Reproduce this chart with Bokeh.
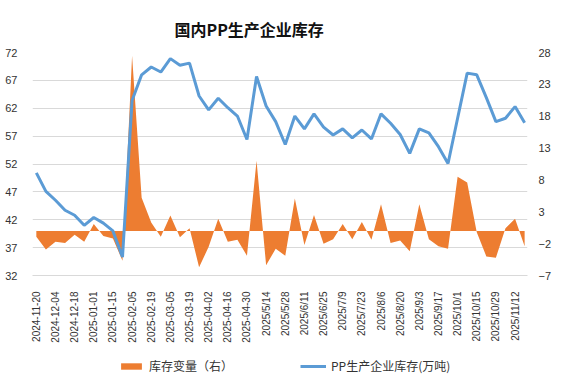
from bokeh.plotting import figure
from bokeh.layouts import column
from bokeh.models import Range1d, LinearAxis, FixedTicker, Legend, LegendItem
from bokeh.embed import file_html
from bokeh.resources import INLINE

dates = ["2024-11-20", "2024-11-27", "2024-12-04", "2024-12-11", "2024-12-18", "2024-12-25",
         "2025-01-01", "2025-01-08", "2025-01-15", "2025-01-22", "2025-02-05", "2025-02-12",
         "2025-02-19", "2025-02-26", "2025-03-05", "2025-03-12", "2025-03-19", "2025-03-26",
         "2025-04-02", "2025-04-09", "2025-04-16", "2025-04-23", "2025-04-30", "2025/5/7",
         "2025/5/14", "2025/5/21", "2025/5/28", "2025/6/4", "2025/6/11", "2025/6/18",
         "2025/6/25", "2025/7/2", "2025/7/9", "2025/7/16", "2025/7/23", "2025/7/30",
         "2025/8/6", "2025/8/13", "2025/8/20", "2025/8/27", "2025/9/3", "2025/9/10",
         "2025/9/17", "2025/9/24", "2025/10/1", "2025/10/8", "2025/10/15", "2025/10/22",
         "2025/10/29", "2025/11/5", "2025/11/12", "2025/11/19"]

inventory = [50.4, 47.1, 45.5, 43.7, 42.8, 41.0, 42.4, 41.4, 40.0, 35.3,
             63.4, 68.0, 69.4, 68.5, 70.9, 69.7, 70.1, 64.2, 61.7, 63.8,
             62.1, 60.6, 56.4, 67.7, 62.4, 59.6, 55.5, 60.6, 58.3, 61.0,
             58.6, 57.2, 58.3, 56.7, 58.1, 56.5, 61.0, 59.3, 57.3, 53.9,
             58.3, 57.6, 55.1, 52.1, 60.2, 68.3, 68.0, 63.9, 59.6, 60.2,
             62.3, 59.4]

change = [-0.9, -2.9, -1.7, -1.9, -0.6, -1.7, 1.1, -0.8, -1.2, -4.7,
          27.5, 5.2, 1.3, -0.9, 2.4, -1.0, 0.4, -5.7, -2.5, 1.9,
          -1.7, -1.4, -3.9, 11.0, -5.4, -2.8, -3.9, 5.1, -2.2, 2.5,
          -2.0, -1.3, 1.1, -1.3, 1.4, -1.4, 4.2, -1.9, -1.5, -3.2,
          4.2, -1.3, -2.4, -2.8, 8.5, 7.6, -0.2, -4.0, -4.2, 0.4,
          1.9, -2.4]

title_text = "国内PP生产企业库存"
series_names = ["库存变量（右）", "PP生产企业库存(万吨)"]
left_ticks = [32, 37, 42, 47, 52, 57, 62, 67, 72]
right_ticks = [-7, -2, 3, 8, 13, 18, 23, 28]

x = list(range(len(dates)))
zeros = [0] * len(dates)

ORANGE = "#ED7D31"
BLUE = "#5B9BD5"
GRID = "#d9d9d9"
TXT = "#333333"

p = figure(width=554, height=345, output_backend="svg", toolbar_location=None,
           x_range=Range1d(-0.4, 51.3), y_range=Range1d(32, 72),
           min_border_left=32, min_border_right=17, min_border_top=52, min_border_bottom=63)
p.extra_y_ranges = {"right": Range1d(-7, 28)}

p.title.text = title_text
p.title.align = "left"
p.title.offset = 142
p.title.standoff = 24
p.title.text_font = "Noto Sans CJK SC"
p.title.text_font_size = "16px"
p.title.text_font_style = "bold"
p.title.text_color = "#111111"

p.outline_line_color = None
p.background_fill_color = "white"
p.border_fill_color = "white"

area = p.varea(x=x, y1=zeros, y2=change, fill_color=ORANGE, y_range_name="right")
line = p.line(x=x, y=inventory, line_color=BLUE, line_width=3)

ya = p.yaxis[0]
ya.ticker = FixedTicker(ticks=left_ticks)
ya.axis_line_color = None
ya.major_tick_line_color = None
ya.minor_tick_line_color = None
ya.major_label_standoff = 9
ya.major_label_text_font = "Liberation Sans"
ya.major_label_text_font_size = "11px"
ya.major_label_text_color = TXT

ra = LinearAxis(y_range_name="right", ticker=FixedTicker(ticks=right_ticks))
ra.axis_line_color = None
ra.major_tick_line_color = None
ra.minor_tick_line_color = None
ra.major_label_standoff = 5
ra.major_label_text_font = "Liberation Sans"
ra.major_label_text_font_size = "11px"
ra.major_label_text_color = TXT
p.add_layout(ra, "right")

xa = p.xaxis[0]
xa.ticker = FixedTicker(ticks=x[::2])
xa.major_label_overrides = {i: dates[i] for i in x[::2]}
xa.major_label_orientation = 3.14159265 / 2
xa.axis_line_color = GRID
xa.major_tick_line_color = None
xa.minor_tick_line_color = None
xa.major_label_standoff = 10
xa.major_label_text_font = "Liberation Sans"
xa.major_label_text_font_size = "10px"
xa.major_label_text_color = TXT

p.xgrid.grid_line_color = None
p.ygrid.grid_line_color = GRID
p.ygrid.ticker = FixedTicker(ticks=left_ticks)

# legend strip below the chart
p2 = figure(width=554, height=30, output_backend="svg", toolbar_location=None,
            x_range=Range1d(0, 1), y_range=Range1d(0, 1),
            x_axis_location=None, y_axis_location=None, min_border=0)
p2.outline_line_color = None
p2.xgrid.grid_line_color = None
p2.ygrid.grid_line_color = None
p2.border_fill_color = "white"
a2 = p2.varea(x=[5, 6], y1=[5, 5], y2=[6, 6], fill_color=ORANGE)
l2 = p2.line(x=[5, 6], y=[5, 5], line_color=BLUE, line_width=3)

legend = Legend(items=[LegendItem(label=series_names[0], renderers=[a2]),
                       LegendItem(label=series_names[1], renderers=[l2])],
                orientation="horizontal", location=(86, 1))
legend.padding = 0
legend.margin = 0
legend.spacing = 67
legend.glyph_width = 26
legend.glyph_height = 8
legend.label_height = 14
legend.label_standoff = 5
legend.border_line_color = None
legend.background_fill_alpha = 0
legend.label_text_font = "Noto Sans CJK SC"
legend.label_text_font_size = "12px"
legend.label_text_color = TXT
p2.add_layout(legend)

layout = column(p, p2, spacing=0)
open("out.html", "w").write(file_html(layout, INLINE))
